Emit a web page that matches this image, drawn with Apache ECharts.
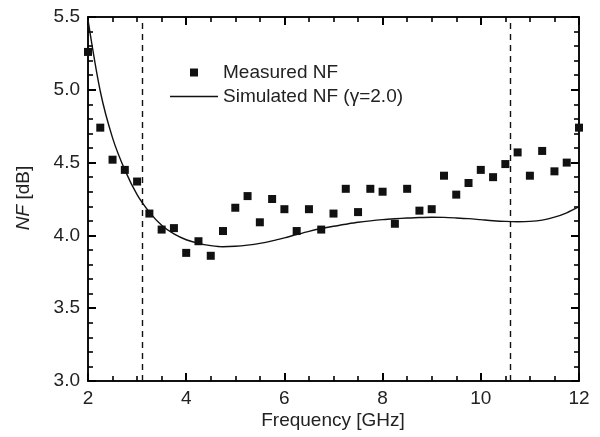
<!DOCTYPE html>
<html>
<head>
<meta charset="utf-8">
<script src="https://cdn.jsdelivr.net/npm/echarts@6/dist/echarts.min.js"></script>
<style>
html,body{margin:0;padding:0;background:#fff;}
#chart{width:600px;height:437px;}
</style>
</head>
<body>
<div id="chart"></div>
<script>
// Measured NF (squares)
var freqMeasured = [2.00,2.25,2.50,2.75,3.00,3.25,3.50,3.75,4.00,4.25,4.50,4.75,5.00,5.25,5.50,5.75,6.00,6.25,6.50,6.75,7.00,7.25,7.50,7.75,8.00,8.25,8.50,8.75,9.00,9.25,9.50,9.75,10.00,10.25,10.50,10.75,11.00,11.25,11.50,11.75,12.00];
var nfMeasured   = [5.26,4.74,4.52,4.45,4.37,4.15,4.04,4.05,3.88,3.96,3.86,4.03,4.19,4.27,4.09,4.25,4.18,4.03,4.18,4.04,4.15,4.32,4.16,4.32,4.30,4.08,4.32,4.17,4.18,4.41,4.28,4.36,4.45,4.40,4.49,4.57,4.41,4.58,4.44,4.50,4.74];
// Simulated NF (solid curve)
var freqSim = [2.00,2.25,2.50,2.75,3.00,3.25,3.50,3.75,4.00,4.25,4.50,4.75,5.00,5.25,5.50,5.75,6.00,6.25,6.50,6.75,7.00,7.25,7.50,7.75,8.00,8.25,8.50,8.75,9.00,9.25,9.50,9.75,10.00,10.25,10.50,10.75,11.00,11.25,11.50,11.75,12.00];
var nfSim   = [5.48,4.99,4.67,4.45,4.28,4.16,4.07,4.01,3.97,3.945,3.93,3.922,3.925,3.933,3.945,3.962,3.983,4.006,4.028,4.047,4.063,4.077,4.09,4.10,4.108,4.114,4.119,4.123,4.125,4.124,4.12,4.115,4.108,4.101,4.096,4.094,4.096,4.105,4.125,4.155,4.197];
// Band edges (dashed lines)
var bandEdges = [3.1, 10.6];
// Axis ticks, titles, legend labels
var xTicks = {min: 2, max: 12, interval: 2};
var yTicks = {min: 3.0, max: 5.5, interval: 0.5};
var xTitle = 'Frequency [GHz]';
var yTitle = '{i|NF} [dB]';
var nameMeasured = 'Measured NF';
var nameSimulated = 'Simulated NF (γ=2.0)';

var FONT = "'Liberation Sans', Arial, sans-serif";
var INK = '#111111';

function zip(a, b) { return a.map(function (v, i) { return [v, b[i]]; }); }

function axisBase(pos, showLabel, isX) {
  return {
    type: 'value',
    position: pos,
    min: isX ? xTicks.min : yTicks.min,
    max: isX ? xTicks.max : yTicks.max,
    interval: isX ? xTicks.interval : yTicks.interval,
    axisLine: {show: true, onZero: false, lineStyle: {color: INK, width: 2}},
    axisTick: {show: true, inside: true, length: 8, lineStyle: {color: '#000', width: 2}},
    minorTick: {show: true, splitNumber: isX ? 4 : 5, length: 5, lineStyle: {color: '#000', width: 1.6}},
    splitLine: {show: false},
    axisLabel: {
      show: showLabel, color: '#222', fontFamily: FONT, fontSize: 19,
      formatter: isX ? function (v) { return String(v); } : function (v) { return v.toFixed(1); }
    }
  };
}

var chart = echarts.init(document.getElementById('chart'));
chart.setOption({
  animation: false,
  backgroundColor: '#fff',
  grid: {left: 88, right: 21, top: 17, bottom: 56},
  xAxis: [axisBase('bottom', true, true), axisBase('top', false, true)],
  yAxis: [axisBase('left', true, false), axisBase('right', false, false)],
  legend: {
    orient: 'vertical',
    left: 165, top: 58,
    itemWidth: 48, itemHeight: 8, itemGap: 5,
    textStyle: {fontFamily: FONT, fontSize: 19, color: '#222'},
    data: [
      {name: nameMeasured, icon: 'path://M0,0h1v1h-1z'},
      {name: nameSimulated, icon: 'path://M0,0H48V1.4H0Z'}
    ]
  },
  graphic: [
    {type: 'text', x: 333, y: 421, silent: true,
      style: {text: xTitle, fontFamily: FONT, fontSize: 19, fill: '#222', align: 'center', verticalAlign: 'middle'}},
    {type: 'text', x: 24, y: 198, rotation: Math.PI / 2, silent: true,
      style: {text: yTitle, fontFamily: FONT, fontSize: 19, fill: '#222', align: 'center', verticalAlign: 'middle',
        rich: {i: {fontStyle: 'italic', fontFamily: FONT, fontSize: 19, fill: '#222'}}}}
  ],
  series: [
    {
      name: nameSimulated, type: 'line', xAxisIndex: 0, yAxisIndex: 0,
      data: zip(freqSim, nfSim), symbol: 'none', smooth: 0.3,
      lineStyle: {color: INK, width: 1.4}, itemStyle: {color: INK}, z: 3,
      markLine: {
        silent: true, symbol: ['none', 'none'], label: {show: false},
        lineStyle: {color: INK, type: [6, 5], width: 1.4},
        data: bandEdges.map(function (v) { return {xAxis: v}; })
      }
    },
    {
      name: nameMeasured, type: 'scatter', xAxisIndex: 0, yAxisIndex: 0,
      data: zip(freqMeasured, nfMeasured), symbol: 'rect', symbolSize: 8,
      itemStyle: {color: INK, opacity: 1}, z: 4
    }
  ]
});
</script>
</body>
</html>
